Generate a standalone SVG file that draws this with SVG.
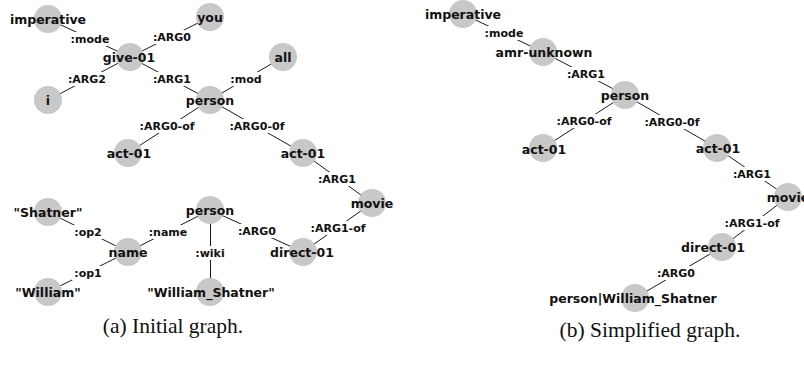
<svg xmlns="http://www.w3.org/2000/svg" width="804" height="370" viewBox="0 0 804 370">
<style>
  .bg { fill: #ffffff; }
  .edge { stroke: #1a1a1a; stroke-width: 1; fill: none; }
  .lblbg { fill: #ffffff; }
  .lbl { font-family: "DejaVu Sans", "Liberation Sans", sans-serif; font-weight: bold; font-size: 11px; fill: #111; text-anchor: middle; }
  .node circle { fill: #c8c8c8; }
  .node text { font-family: "DejaVu Sans", "Liberation Sans", sans-serif; font-weight: bold; font-size: 12.5px; fill: #111; text-anchor: middle; }
  .cap { font-family: "Liberation Serif", "Times New Roman", serif; font-size: 21.5px; fill: #111; text-anchor: middle; }
</style>
<rect class="bg" x="0" y="0" width="804" height="370"/>

<g id="connectors">
  <!-- left graph lines -->
  <line class="edge" x1="48" y1="19" x2="130" y2="57"/>
  <line class="edge" x1="130" y1="57" x2="210" y2="17"/>
  <line class="edge" x1="130" y1="57" x2="48" y2="100"/>
  <line class="edge" x1="130" y1="57" x2="210" y2="100"/>
  <line class="edge" x1="210" y1="100" x2="283" y2="57"/>
  <line class="edge" x1="210" y1="100" x2="128" y2="153"/>
  <line class="edge" x1="210" y1="100" x2="303" y2="153"/>
  <line class="edge" x1="303" y1="153" x2="372" y2="203"/>
  <line class="edge" x1="372" y1="203" x2="303" y2="252"/>
  <line class="edge" x1="210" y1="210" x2="303" y2="252"/>
  <line class="edge" x1="210" y1="210" x2="128" y2="252"/>
  <line class="edge" x1="128" y1="252" x2="48" y2="212"/>
  <line class="edge" x1="128" y1="252" x2="48" y2="292"/>
  <line class="edge" x1="210.5" y1="210" x2="210.5" y2="292"/>
  <!-- right graph lines -->
  <line class="edge" x1="463" y1="14" x2="543" y2="52"/>
  <line class="edge" x1="543" y1="52" x2="625" y2="95"/>
  <line class="edge" x1="625" y1="95" x2="543" y2="148"/>
  <line class="edge" x1="625" y1="95" x2="717" y2="148"/>
  <line class="edge" x1="717" y1="148" x2="788" y2="197"/>
  <line class="edge" x1="788" y1="197" x2="722" y2="247"/>
  <line class="edge" x1="722" y1="247" x2="635" y2="298"/>

  <!-- left labels -->
  <rect class="lblbg" x="69" y="32" width="42" height="14"/><text class="lbl" x="90" y="43">:mode</text>
  <rect class="lblbg" x="151" y="30" width="42" height="14"/><text class="lbl" x="172" y="41">:ARG0</text>
  <rect class="lblbg" x="66" y="72" width="42" height="14"/><text class="lbl" x="87" y="83">:ARG2</text>
  <rect class="lblbg" x="151" y="72" width="42" height="14"/><text class="lbl" x="172" y="83">:ARG1</text>
  <rect class="lblbg" x="228" y="72" width="36" height="14"/><text class="lbl" x="246" y="83">:mod</text>
  <rect class="lblbg" x="137" y="119" width="60" height="14"/><text class="lbl" x="167" y="130">:ARG0-of</text>
  <rect class="lblbg" x="227" y="119" width="60" height="14"/><text class="lbl" x="257" y="130">:ARG0-0f</text>
  <rect class="lblbg" x="316" y="172" width="42" height="14"/><text class="lbl" x="337" y="183">:ARG1</text>
  <rect class="lblbg" x="308" y="221" width="60" height="14"/><text class="lbl" x="338" y="232">:ARG1-of</text>
  <rect class="lblbg" x="236" y="224" width="42" height="14"/><text class="lbl" x="257" y="235">:ARG0</text>
  <rect class="lblbg" x="147" y="225" width="42" height="14"/><text class="lbl" x="168" y="236">:name</text>
  <rect class="lblbg" x="72" y="225" width="32" height="14"/><text class="lbl" x="88" y="236">:op2</text>
  <rect class="lblbg" x="72" y="266" width="32" height="14"/><text class="lbl" x="88" y="277">:op1</text>
  <rect class="lblbg" x="193" y="246" width="34" height="14"/><text class="lbl" x="210" y="257">:wiki</text>

  <!-- right labels -->
  <rect class="lblbg" x="483" y="26" width="42" height="14"/><text class="lbl" x="504" y="37">:mode</text>
  <rect class="lblbg" x="565" y="67" width="42" height="14"/><text class="lbl" x="586" y="78">:ARG1</text>
  <rect class="lblbg" x="554" y="114" width="60" height="14"/><text class="lbl" x="584" y="125">:ARG0-of</text>
  <rect class="lblbg" x="642" y="115" width="60" height="14"/><text class="lbl" x="672" y="126">:ARG0-0f</text>
  <rect class="lblbg" x="731" y="167" width="42" height="14"/><text class="lbl" x="752" y="178">:ARG1</text>
  <rect class="lblbg" x="722" y="216" width="60" height="14"/><text class="lbl" x="752" y="227">:ARG1-of</text>
  <rect class="lblbg" x="655" y="266" width="42" height="14"/><text class="lbl" x="676" y="277">:ARG0</text>
</g>

<!-- left graph nodes -->
<g id="a-imperative" class="node"><circle cx="48" cy="19" r="14"/><text x="48" y="24">imperative</text></g>
<g id="a-give-01" class="node"><circle cx="130" cy="57" r="14"/><text x="129" y="62">give-01</text></g>
<g id="a-you" class="node"><circle cx="210" cy="17" r="14"/><text x="210" y="22">you</text></g>
<g id="a-i" class="node"><circle cx="48" cy="100" r="14"/><text x="48" y="105">i</text></g>
<g id="a-all" class="node"><circle cx="283" cy="57" r="14"/><text x="283" y="62">all</text></g>
<g id="a-person" class="node"><circle cx="210" cy="100" r="14"/><text x="210" y="105">person</text></g>
<g id="a-act-01-left" class="node"><circle cx="128" cy="153" r="14"/><text x="129" y="158">act-01</text></g>
<g id="a-act-01-right" class="node"><circle cx="303" cy="153" r="14"/><text x="303" y="158">act-01</text></g>
<g id="a-movie" class="node"><circle cx="372" cy="203" r="14"/><text x="372" y="208">movie</text></g>
<g id="a-direct-01" class="node"><circle cx="303" cy="252" r="14"/><text x="302" y="257">direct-01</text></g>
<g id="a-person-2" class="node"><circle cx="210" cy="210" r="14"/><text x="210" y="215">person</text></g>
<g id="a-shatner" class="node"><circle cx="48" cy="212" r="14"/><text x="48" y="217">"Shatner"</text></g>
<g id="a-name" class="node"><circle cx="128" cy="252" r="14"/><text x="128" y="257">name</text></g>
<g id="a-william" class="node"><circle cx="48" cy="292" r="14"/><text x="48" y="297">"William"</text></g>
<g id="a-william-shatner" class="node"><circle cx="210" cy="292" r="14"/><text x="211" y="297">"William_Shatner"</text></g>

<!-- right graph nodes -->
<g id="b-imperative" class="node"><circle cx="463" cy="14" r="14"/><text x="463" y="19">imperative</text></g>
<g id="b-amr-unknown" class="node"><circle cx="543" cy="52" r="14"/><text x="544" y="57">amr-unknown</text></g>
<g id="b-person" class="node"><circle cx="625" cy="95" r="14"/><text x="625" y="100">person</text></g>
<g id="b-act-01-left" class="node"><circle cx="543" cy="148" r="14"/><text x="544" y="154">act-01</text></g>
<g id="b-act-01-right" class="node"><circle cx="717" cy="148" r="14"/><text x="718" y="153">act-01</text></g>
<g id="b-movie" class="node"><circle cx="788" cy="197" r="14"/><text x="788" y="202">movie</text></g>
<g id="b-direct-01" class="node"><circle cx="722" cy="247" r="14"/><text x="713" y="252">direct-01</text></g>
<g id="b-person-ws" class="node"><circle cx="635" cy="298" r="14"/><text x="633" y="303">person|William_Shatner</text></g>

<text class="cap" x="173" y="333">(a) Initial graph.</text>
<text class="cap" x="650" y="337">(b) Simplified graph.</text>
</svg>
